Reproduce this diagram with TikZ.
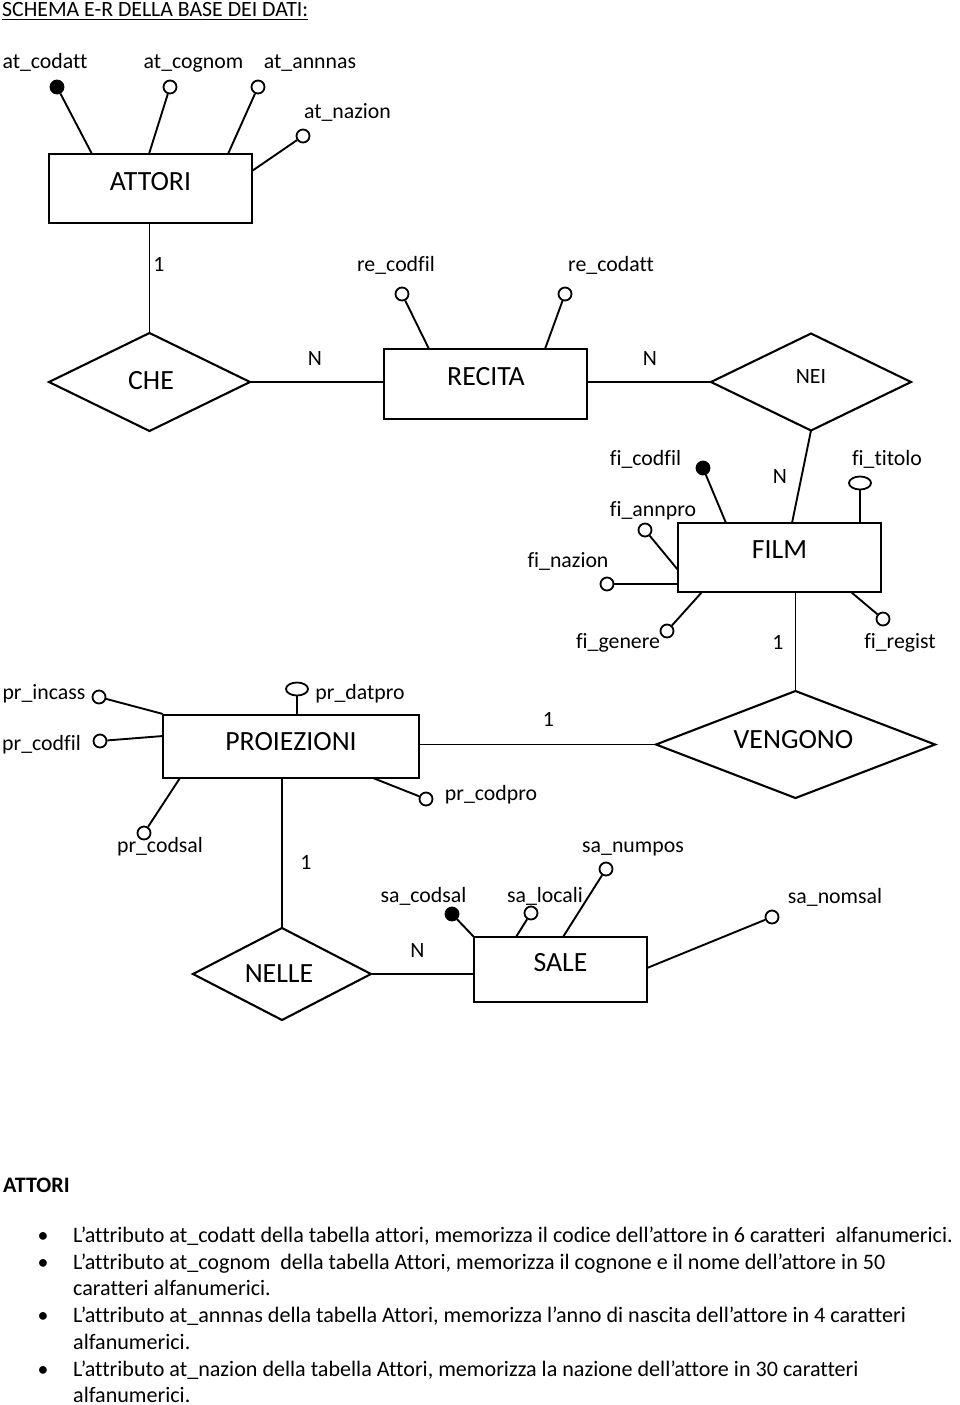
\documentclass[tikz,border=0pt]{standalone}
\usepackage{fontspec}
\setmainfont{Carlito}[Ligatures=NoCommon]
\usetikzlibrary{shapes.geometric,calc}
\newcommand{\lblfont}{\fontsize{21.8}{26}\selectfont}
\newcommand{\parfont}{\fontsize{22.1}{26}\selectfont}
\newcommand{\entfont}{\fontsize{27.8}{32}\selectfont}
\tikzset{
  ent/.style={draw, rectangle, line width=2.2pt, inner sep=0pt, outer sep=0pt},
  rel/.style={draw, diamond, line width=2.1pt, inner sep=0pt, outer sep=0pt},
  attr/.style={draw, circle, line width=1.8pt, fill=white, minimum size=13pt, inner sep=0pt},
  keyattr/.style={attr, fill=black},
  ovalattr/.style={draw, ellipse, line width=1.8pt, fill=white, minimum width=22pt, minimum height=13pt, inner sep=0pt},
  conn/.style={line width=1.9pt},
  lbl/.style={font=\lblfont, inner sep=0pt, anchor=base},
  entlbl/.style={font=\entfont, inner sep=0pt, anchor=base},
  para/.style={font=\parfont, inner sep=0pt, anchor=base west},
}
\begin{document}
\begin{tikzpicture}[x=1pt,y=-1pt]
\useasboundingbox (0,0) rectangle (960,1405);

% title
\node[para, font=\lblfont] (title) at (2,17) {SCHEMA E-R DELLA BASE DEI DATI:};
\draw[line width=1.3pt] ($(title.base west)+(0,2.8)$) -- ($(title.base east)+(0,2.8)$);

% entities
\node[ent, minimum width=203pt, minimum height=69pt] (attori) at (150.5,188.5) {};
\node[ent, minimum width=203pt, minimum height=70pt] (recita) at (485.5,384) {};
\node[ent, minimum width=203pt, minimum height=69pt] (film) at (779.5,557.5) {};
\node[ent, minimum width=256pt, minimum height=63pt] (proiezioni) at (291,746.5) {};
\node[ent, minimum width=173pt, minimum height=65pt] (sale) at (560.5,969.5) {};

% relationships
\node[rel, minimum width=201pt, minimum height=98pt] (che) at (149.5,382) {};
\node[rel, minimum width=200pt, minimum height=97pt] (nei) at (811,382) {};
\node[rel, minimum width=279pt, minimum height=107pt] (vengono) at (795.5,744.5) {};
\node[rel, minimum width=178pt, minimum height=92pt] (nelle) at (282,974) {};

% entity / relationship names
\node[entlbl] (tattori) at (150.5,190) {ATTORI};
\node[entlbl] (trecita) at (486,385) {RECITA};
\node[entlbl] (tfilm) at (779.5,558) {FILM};
\node[entlbl] (tproiez) at (291,750) {PROIEZIONI};
\node[entlbl] (tsale) at (560.5,971) {SALE};
\node[entlbl] (tche) at (151,389) {CHE};
\node[lbl] (tnei) at (811,383) {NEI};
\node[entlbl] (tvengono) at (793.5,748) {VENGONO};
\node[entlbl] (tnelle) at (279,982) {NELLE};

% relationship connectors
\draw[conn] (che.north |- attori.south) -- (che.north);
\draw[conn] (che.east) -- (che.east -| recita.west);
\draw[conn] (nei.west -| recita.east) -- (nei.west);
\coordinate (filmtop) at (792,523);
\draw[conn] (nei.south) -- (filmtop);
\draw[conn] (vengono.north |- film.south) -- (vengono.north);
\draw[conn] (vengono.west -| proiezioni.east) -- (vengono.west);
\draw[conn] (nelle.north |- proiezioni.south) -- (nelle.north);
\draw[conn] (nelle.east) -- (nelle.east -| sale.west);

% cardinalities
\node[lbl] (k1) at (159,271) {1};
\node[lbl] (k2) at (315,365) {N};
\node[lbl] (k3) at (650,365) {N};
\node[lbl] (k4) at (780,483) {N};
\node[lbl] (k5) at (778,649) {1};
\node[lbl] (k6) at (548.5,726) {1};
\node[lbl] (k7) at (306,869) {1};
\node[lbl] (k8) at (417.5,957) {N};

% ATTORI attributes
\node[keyattr] (a1) at (57,87) {};
\node[attr] (a2) at (170,87) {};
\node[attr] (a3) at (258,87) {};
\node[attr] (a4) at (303,136) {};
\coordinate (p1) at (92,154);
\coordinate (p2) at (149,154);
\coordinate (p3) at (228,154);
\coordinate (p4) at (252,171);
\draw[conn] (a1) -- (p1);
\draw[conn] (a2) -- (p2);
\draw[conn] (a3) -- (p3);
\draw[conn] (a4) -- (p4);
\node[lbl] (la1) at (45,68) {at\_codatt};
\node[lbl] (la2) at (193.5,68) {at\_cognom};
\node[lbl] (la3) at (310,68) {at\_annnas};
\node[lbl] (la4) at (347.5,118) {at\_nazion};

% RECITA attributes
\node[attr] (r1) at (402,294) {};
\node[attr] (r2) at (565,294) {};
\coordinate (q1) at (429,349);
\coordinate (q2) at (545,349);
\draw[conn] (r1) -- (q1);
\draw[conn] (r2) -- (q2);
\node[lbl] (lr1) at (396,271) {re\_codfil};
\node[lbl] (lr2) at (611,271) {re\_codatt};

% FILM attributes
\node[keyattr] (f1) at (703,468) {};
\node[ovalattr] (f2) at (860,483) {};
\node[attr] (f3) at (645,530) {};
\node[attr] (f4) at (607,584) {};
\node[attr] (f5) at (667,631) {};
\node[attr] (f6) at (883,619) {};
\coordinate (g1) at (726,523);
\coordinate (g2) at (860,523);
\coordinate (g3) at (678,570);
\coordinate (g4) at (678,584);
\coordinate (g5) at (702,592);
\coordinate (g6) at (851,592);
\draw[conn] (f1) -- (g1);
\draw[conn] (f2) -- (g2);
\draw[conn] (f3) -- (g3);
\draw[conn] (f4) -- (g4);
\draw[conn] (f5) -- (g5);
\draw[conn] (f6) -- (g6);
\node[lbl] (lf1) at (645.5,465) {fi\_codfil};
\node[lbl] (lf2) at (887,465) {fi\_titolo};
\node[lbl] (lf3) at (653,516) {fi\_annpro};
\node[lbl] (lf4) at (568,567) {fi\_nazion};
\node[lbl] (lf5) at (618,648) {fi\_genere};
\node[lbl] (lf6) at (900,648) {fi\_regist};

% PROIEZIONI attributes
\node[attr] (e1) at (99,697) {};
\node[attr] (e2) at (100,741) {};
\node[ovalattr] (e3) at (297,689) {};
\node[attr] (e4) at (426,799) {};
\node[attr] (e5) at (144,833) {};
\coordinate (h1) at (163,714);
\coordinate (h2) at (163,736);
\coordinate (h3) at (297,715);
\coordinate (h4) at (373,778);
\coordinate (h5) at (180,778);
\draw[conn] (e1) -- (h1);
\draw[conn] (e2) -- (h2);
\draw[conn] (e3) -- (h3);
\draw[conn] (e4) -- (h4);
\draw[conn] (e5) -- (h5);
\node[lbl] (le1) at (44,699) {pr\_incass};
\node[lbl] (le2) at (41.5,750) {pr\_codfil};
\node[lbl] (le3) at (360,699) {pr\_datpro};
\node[lbl] (le4) at (491,800) {pr\_codpro};
\node[lbl] (le5) at (160,852) {pr\_codsal};

% SALE attributes
\node[keyattr] (s1) at (452,914) {};
\node[attr] (s2) at (531,913) {};
\node[attr] (s3) at (606,869) {};
\node[attr] (s4) at (772,917) {};
\coordinate (t1) at (474,937);
\coordinate (t2) at (516,937);
\coordinate (t3) at (563,937);
\coordinate (t4) at (647,968);
\draw[conn] (s1) -- (t1);
\draw[conn] (s2) -- (t2);
\draw[conn] (s3) -- (t3);
\draw[conn] (s4) -- (t4);
\node[lbl] (ls1) at (423.5,902) {sa\_codsal};
\node[lbl] (ls2) at (545,902) {sa\_locali};
\node[lbl] (ls3) at (633,852) {sa\_numpos};
\node[lbl] (ls4) at (835,903) {sa\_nomsal};

% description
\node[para, font=\parfont\bfseries] (hd) at (3,1192) {ATTORI};
\node[lbl] (b1) at (43,1242) {•};
\node[lbl] (b2) at (43,1269) {•};
\node[lbl] (b3) at (43,1322) {•};
\node[lbl] (b4) at (43,1376) {•};
\node[para] (x1) at (73,1242) {L’attributo at\_codatt della tabella attori, memorizza il codice dell’attore in 6 caratteri\ \ alfanumerici.};
\node[para] (x2) at (73,1269) {L’attributo at\_cognom\ \ della tabella Attori, memorizza il cognone e il nome dell’attore in 50};
\node[para] (x3) at (73,1295) {caratteri alfanumerici.};
\node[para] (x4) at (73,1322) {L’attributo at\_annnas della tabella Attori, memorizza l’anno di nascita dell’attore in 4 caratteri};
\node[para] (x5) at (73,1349) {alfanumerici.};
\node[para] (x6) at (73,1376) {L’attributo at\_nazion della tabella Attori, memorizza la nazione dell’attore in 30 caratteri};
\node[para] (x7) at (73,1402) {alfanumerici.};
\end{tikzpicture}
\end{document}
